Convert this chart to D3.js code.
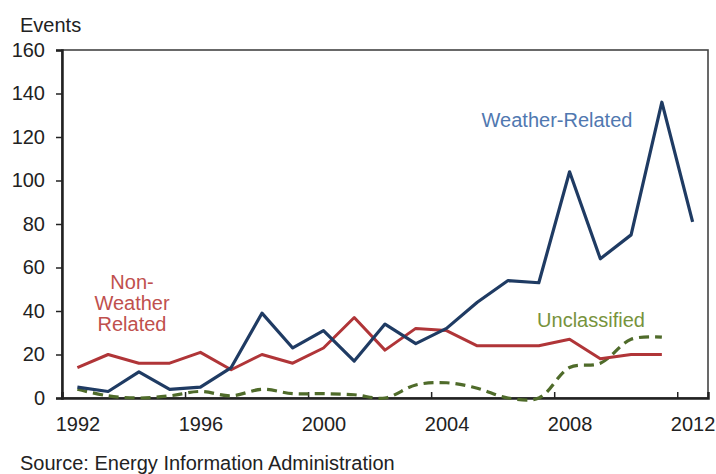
<!DOCTYPE html>
<html>
<head>
<meta charset="utf-8">
<script src="https://cdn.jsdelivr.net/npm/d3@7"></script>
<style>
  body { margin: 0; background: #fff; }
  text { font-family: "Liberation Sans", Arial, sans-serif; }
</style>
</head>
<body>
<div id="chart"></div>
<script>
// data
let years = d3.range(1992, 2013);
let weather = [5, 3, 12, 4, 5, 14, 39, 23, 31, 17, 34, 25, 32, 44, 54, 53, 104, 64, 75, 136, 81];
let nonWeather = [14, 20, 16, 16, 21, 13, 20, 16, 23, 37, 22, 32, 31, 24, 24, 24, 27, 18, 20, 20];
let unclassified = [4, 1, 0, 1, 3, 1, 4, 2, 2, 1.5, 0, 6, 7, 4.5, 0, 0, 14, 16, 27, 28];
let yTicks = [0, 20, 40, 60, 80, 100, 120, 140, 160];
let xLabels = [1992, 1996, 2000, 2004, 2008, 2012];

let svgWidth = 716, svgHeight = 474;
let plot = { left: 62, right: 708, top: 50, bottom: 398 };

let svg = d3.select("#chart").append("svg")
            .attr("width", svgWidth)
            .attr("height", svgHeight);

let x = d3.scaleLinear().domain([1991.5, 2012.5]).range([plot.left, plot.right]);
let y = d3.scaleLinear().domain([0, 160]).range([plot.bottom, plot.top]);

// frame
svg.append("rect")
   .attr("x", plot.left).attr("y", plot.top)
   .attr("width", plot.right - plot.left).attr("height", plot.bottom - plot.top)
   .attr("fill", "none").attr("stroke", "#444").attr("stroke-width", 1.6);

// y axis
let leftAxis = d3.axisLeft(y).tickValues(yTicks).tickSize(6).tickPadding(11);
let gy = svg.append("g").attr("transform", `translate(${plot.left},0)`).call(leftAxis);
gy.select(".domain").attr("stroke", "#222").attr("stroke-width", 2.5);
gy.selectAll(".tick line").attr("stroke", "#222").attr("stroke-width", 1.5);
gy.selectAll("text").attr("font-size", "20px").attr("fill", "#222");

// x axis: labels at category centres, tick marks between categories
let labelAxis = d3.axisBottom(x).tickValues(xLabels).tickSize(0).tickPadding(19).tickFormat(d3.format("d"));
let gx = svg.append("g").attr("transform", `translate(0,${plot.bottom})`).call(labelAxis);
gx.select(".domain").remove();
gx.selectAll("text").attr("font-size", "20px").attr("fill", "#222");

let tickAxis = d3.axisBottom(x).tickValues(xLabels.map(d => d - 0.5)).tickSize(-6).tickFormat("");
let gt = svg.append("g").attr("transform", `translate(0,${plot.bottom})`).call(tickAxis);
gt.select(".domain").attr("stroke", "#222").attr("stroke-width", 2.5);
gt.selectAll(".tick line").attr("stroke", "#222").attr("stroke-width", 1.5);

// lines
let line = d3.line().x((d, i) => x(years[i])).y(d => y(d));
let smooth = d3.line().x((d, i) => x(years[i])).y(d => y(d)).curve(d3.curveCatmullRom.alpha(0.5));

svg.append("path").datum(unclassified)
   .attr("d", smooth)
   .attr("fill", "none").attr("stroke", "#4f6b2a").attr("stroke-width", 3.2)
   .attr("stroke-dasharray", "10,6");

svg.append("path").datum(nonWeather)
   .attr("d", line)
   .attr("fill", "none").attr("stroke", "#b03538").attr("stroke-width", 3)
   .attr("stroke-linejoin", "round");

svg.append("path").datum(weather)
   .attr("d", line)
   .attr("fill", "none").attr("stroke", "#1f3b63").attr("stroke-width", 3.2)
   .attr("stroke-linejoin", "round");

// labels
svg.append("text").attr("x", 20).attr("y", 32)
   .attr("font-size", "20px").attr("fill", "#222").text("Events");

svg.append("text").attr("x", 557).attr("y", 127).attr("text-anchor", "middle")
   .attr("font-size", "20px").attr("fill", "#5078b0").text("Weather-Related");

let nw = svg.append("text").attr("text-anchor", "middle")
            .attr("font-size", "20px").attr("fill", "#c0504d");
["Non-", "Weather", "Related"].forEach(function(t, i) {
    nw.append("tspan").attr("x", 132).attr("y", 289 + i * 21).text(t);
});

svg.append("text").attr("x", 591).attr("y", 327).attr("text-anchor", "middle")
   .attr("font-size", "20px").attr("fill", "#77933c").text("Unclassified");

svg.append("text").attr("x", 20).attr("y", 470)
   .attr("font-size", "20px").attr("fill", "#222").text("Source: Energy Information Administration");
</script>
</body>
</html>
